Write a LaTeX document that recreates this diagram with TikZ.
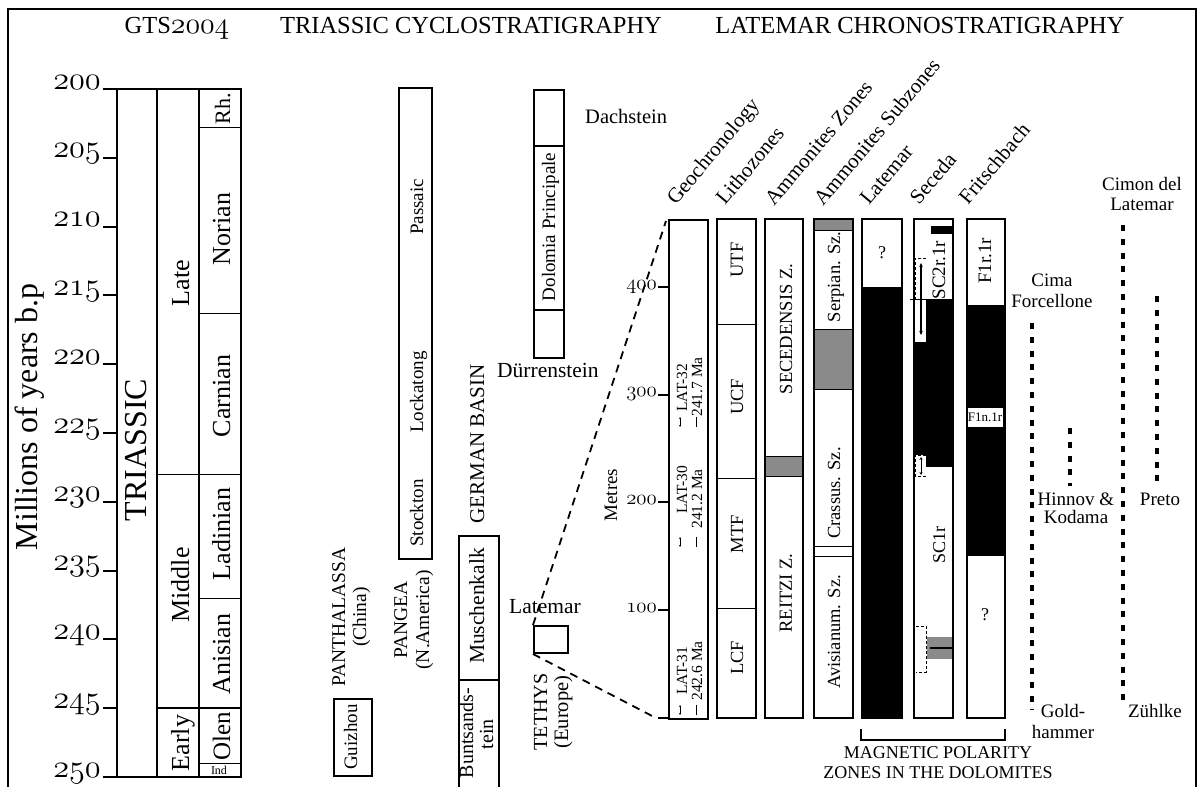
\documentclass[tikz,border=0pt]{standalone}
\usepackage{graphicx}
\usepackage{fontspec}
\setmainfont{Liberation Serif}
\usetikzlibrary{arrows.meta}
\newcommand\fs[2]{\fontsize{#1}{#2}\selectfont}
\newcommand\osf[1]{{\usefont{OML}{lmm}{m}{it}#1}}
\definecolor{gry}{RGB}{138,138,138}
\begin{document}
\begin{tikzpicture}[x=1pt,y=-1pt,
  thicktwo/.style={line width=2pt},
  thinone/.style={line width=0.9pt},
  colbox/.style={draw, line width=2pt},
  rt/.style={rotate=90, inner sep=0pt},
  lbl/.style={inner sep=0pt, font=\fs{19}{21}},
  ttl/.style={inner sep=0pt, font=\fs{24.5}{28}, anchor=base},
  hdr/.style={inner sep=0pt, font=\fs{21}{24}, rotate=50, anchor=base west},
  intext/.style={rt, font=\fs{18.5}{20}},
  dotl/.style={line width=4.5pt, dash pattern=on 6pt off 7.8pt},
  dashl/.style={line width=1.8pt, dash pattern=on 8pt off 6pt},
  brk/.style={line width=0.8pt, dash pattern=on 3pt off 2pt},
  tip/.style={{Stealth[length=4pt,width=3.5pt]}-{Stealth[length=4pt,width=3.5pt]}},
]
\useasboundingbox (0,0) rectangle (1203,787);
% frame
\draw[thicktwo] (8,800) -- (8,9) -- (1196,9) -- (1196,800);
% titles
\node[ttl] (t1) at (177,33) {GTS\scalebox{1.2}{\osf{2004}}};
\node[ttl] (t2) at (471,33) {TRIASSIC CYCLOSTRATIGRAPHY};
\node[ttl] (t3) at (920,33) {LATEMAR CHRONOSTRATIGRAPHY};

% ===== GTS2004 =====
\foreach \a in {200,205,...,250}{
  \pgfmathsetmacro\yy{89+(\a-200)*13.76}
  \draw[thicktwo] (103,\yy) -- (117,\yy);
  \node[anchor=base east, inner sep=0pt, font=\fs{24.88}{28}] (tk\a) at (101,\yy) {\scalebox{1.3}{\osf{\a}}};
}
\draw[thicktwo] (117,89) rectangle (241,777);
\draw[thicktwo] (157,89) -- (157,777) (199,89) -- (199,777);
\draw[thinone] (199,127.5) -- (241,127.5) (199,313.3) -- (241,313.3)
  (157,474.3) -- (241,474.3) (199,598.1) -- (241,598.1) (199,763.2) -- (241,763.2);
\draw[thicktwo] (157,708.2) -- (241,708.2);
\node[rt, anchor=base, font=\fs{32}{36}] (myr) at (37,417) {Millions of years b.p};
\node[rt, font=\fs{32}{36}] (tri) at (136,450) {TRIASSIC};
\node[rt, anchor=base, font=\fs{26}{28}] (late) at (189,283) {Late};
\node[rt, anchor=base, font=\fs{26}{28}] (mid) at (189,585) {Middle};
\node[rt, anchor=base, font=\fs{26}{28}] (early) at (189,743) {Early};
\node[rt, anchor=base, font=\fs{22}{24}] (rh) at (230,109) {Rh.};
\node[rt, anchor=base, font=\fs{26}{28}] (nor) at (230,229) {Norian};
\node[rt, anchor=base, font=\fs{26}{28}] (car) at (230,396) {Carnian};
\node[rt, anchor=base, font=\fs{26}{28}] (lad) at (230,534) {Ladinian};
\node[rt, anchor=base, font=\fs{26}{28}] (ani) at (230,654) {Anisian};
\node[rt, anchor=base, font=\fs{25}{28}] (olen) at (230,736) {Olen};
\node[inner sep=0pt, font=\fs{12}{13}] (ind) at (219,770) {Ind};

% ===== cyclostratigraphy =====
\draw[thicktwo] (399,88) rectangle (432,559);
\node[rt, anchor=base, font=\fs{19}{21}] (pas) at (423,207) {Passaic};
\node[rt, anchor=base, font=\fs{19}{21}] (lock) at (423,392) {Lockatong};
\node[rt, anchor=base, font=\fs{19}{21}] (stock) at (423,513) {Stockton};
\node[rt, anchor=base, font=\fs{19.5}{21}] (pan1) at (345,617) {PANTHALASSA};
\node[rt, anchor=base, font=\fs{19.5}{21}] (pan2) at (366,617) {(China)};
\draw[thicktwo] (334,699) rectangle (372,776);
\node[rt, anchor=base, font=\fs{19}{21}] (gui) at (357,737) {Guizhou};
\node[rt, anchor=base, font=\fs{19.5}{21}] (pg1) at (407,620) {PANGEA};
\node[rt, anchor=base, font=\fs{19.5}{21}] (pg2) at (429,620) {(N.America)};
\node[rt, anchor=base, font=\fs{21}{23}] (gb) at (484,444) {GERMAN BASIN};
\draw[thicktwo] (459,800) -- (459,536) -- (499,536) -- (499,800);
\draw[thicktwo] (459,680) -- (499,680);
\node[rt, anchor=base, font=\fs{21.5}{23}] (mus) at (484,606) {Muschenkalk};
\node[rt, anchor=base, font=\fs{20}{21}] (bu1) at (473,733) {Buntsands-};
\node[rt, anchor=base, font=\fs{20}{21}] (bu2) at (493,734) {tein};
\draw[thicktwo] (534,90) rectangle (564,358);
\draw[thicktwo] (534,146) -- (564,146) (534,310) -- (564,310);
\node[rt, anchor=base, font=\fs{19}{21}] (dol) at (555,227) {Dolomia Principale};
\node[anchor=base west, inner sep=0pt, font=\fs{20.5}{22}] (dach) at (585,123) {Dachstein};
\node[anchor=base west, inner sep=0pt, font=\fs{21.5}{23}] (durr) at (497,377) {Dürrenstein};
\node[anchor=base, inner sep=0pt, font=\fs{21.5}{23}] (latl) at (545,613) {Latemar};
\node[colbox, minimum width=34pt, minimum height=27pt, inner sep=0pt, anchor=north west] (latbox) at (533,625) {};
\node[rt, anchor=base, font=\fs{20}{21}] (te1) at (547,712) {TETHYS};
\node[rt, anchor=base, font=\fs{20.5}{21}] (te2) at (568,712) {(Europe)};
\node[rt, anchor=base, font=\fs{19}{21}] (met) at (617,495) {Metres};

% ===== Latemar chronostratigraphy =====
\node[colbox, minimum width=39pt, minimum height=499pt, inner sep=0pt, anchor=north west] (geo) at (668,219) {};
\coordinate (gtop) at (666,221);
\coordinate (gbot) at (656,718);
\draw[dashl] (latbox.north west) -- (gtop);
\draw[dashl] (latbox.south west) -- (gbot);
\foreach \m/\yy in {0/718,100/610.2,200/502.4,300/394.6,400/286.8}{
  \draw[thicktwo] (658,\yy) -- (668,\yy);
}
\foreach \m/\yy in {100/610.2,200/502.4,300/394.6,400/286.8}{
  \node[anchor=mid east, inner sep=0pt, font=\fs{21}{23}] (mt\m) at (657,\yy) {\osf{\m}};
}
% geochronology contents
\node[rt, anchor=base, font=\fs{15.5}{17}] (l32a) at (687,388) {LAT-32};
\node[rt, anchor=base, font=\fs{15.5}{17}] (l32b) at (702,387) {241.7 Ma};
\node[rt, anchor=base, font=\fs{15.5}{17}] (l30a) at (687,490) {LAT-30};
\node[rt, anchor=base, font=\fs{15.5}{17}] (l30b) at (702,499) {241.2 Ma};
\node[rt, anchor=base, font=\fs{15.5}{17}] (l31a) at (687,671) {LAT-31};
\node[rt, anchor=base, font=\fs{15.5}{17}] (l31b) at (702,671) {242.6 Ma};
\foreach \yy in {422,542,710}{
  \draw[line width=0.6pt, {Stealth[length=2pt,width=2pt]}-{Stealth[length=2pt,width=2pt]}] (680,\yy-5) -- (680,\yy+5);
  \draw[line width=0.8pt] (696,\yy-5) -- (696,\yy+5);
}
% lithozones
\draw[colbox] (717,219) rectangle (756,718);
\draw[thinone] (717,324) -- (756,324) (717,478) -- (756,478) (717,608) -- (756,608);
\node[intext] (utf) at (737,260) {UTF};
\node[intext] (ucf) at (737,397) {UCF};
\node[intext] (mtf) at (737,534) {MTF};
\node[intext] (lcf) at (737,658) {LCF};
% ammonite zones
\filldraw[fill=gry, thinone] (765,456) rectangle (803,476);
\draw[colbox] (765,219) rectangle (803,718);
\node[intext] (sec) at (786,329) {SECEDENSIS Z.};
\node[intext] (rei) at (786,593) {REITZI Z.};
% ammonite subzones
\fill[gry] (814,219) rectangle (853,230);
\draw[thinone] (814,230) -- (853,230);
\filldraw[fill=gry, thinone] (814,329) rectangle (853,389);
\draw[thinone] (814,546) -- (853,546) (814,556) -- (853,556);
\draw[colbox] (814,219) rectangle (853,718);
\node[intext, anchor=base] (serp) at (840,277) {Serpian. Sz.};
\node[intext, anchor=base] (cras) at (840,493) {Crassus. Sz.};
\node[intext, anchor=base] (avis) at (840,632) {Avisianum. Sz.};
% Latemar
\fill (862,287) rectangle (902,718);
\draw[colbox] (862,219) rectangle (902,718);
\node[inner sep=0pt, font=\fs{18}{20}] (q1) at (882,253) {?};
% Seceda
\fill (914,299) rectangle (953,467);
\fill (931,226) rectangle (953,234);
\fill[white] (914,299) rectangle (926,342);
\fill[white] (914,455) rectangle (926,467);
\draw[thinone] (910,299) -- (929,299);
\draw[brk] (926,258) -- (915,258) -- (915,299);
\draw[line width=1.2pt, tip] (921,263) -- (921,335);
\draw[brk] (926,455) -- (915,455) -- (915,476) -- (926,476);
\draw[line width=1pt, {Stealth[length=3pt,width=3pt]}-{Stealth[length=3pt,width=3pt]}] (921,457) -- (921,475);
\fill[gry] (927,637) rectangle (952,659);
\draw[thicktwo] (930,648) -- (952,648);
\draw[brk] (916,626) -- (926,626) -- (926,672) -- (916,672);
\draw[colbox] (914,219) rectangle (953,718);
\node[rt, anchor=base, font=\fs{19}{21}] (sc2) at (945,270) {SC2r.1r};
\node[rt, anchor=base, font=\fs{18}{20}] (sc1) at (945,545) {SC1r};
% Fritschbach
\fill (967,305) rectangle (1005,556);
\fill[white] (967,408) rectangle (1003,427);
\draw[colbox] (967,219) rectangle (1005,718);
\node[inner sep=0pt, font=\fs{13}{14}] (f1n) at (985,417.5) {F1n.1r};
\node[rt, font=\fs{19}{21}] (f1r) at (985,261) {F1r.1r};
\node[inner sep=0pt, font=\fs{18}{20}] (q2) at (985,615) {?};
% headers
\node[hdr] (h1) at (676,206) {Geochronology};
\node[hdr] (h2) at (725,206) {Lithozones};
\node[hdr] (h3) at (774,207) {Ammonites Zones};
\node[hdr] (h4) at (823,207) {Ammonites Subzones};
\node[hdr] (h5) at (869,206) {Latemar};
\node[hdr] (h6) at (919,206) {Seceda};
\node[hdr] (h7) at (968,206) {Fritschbach};
% magnetic polarity bracket
\draw[thicktwo] (861,729) -- (861,740) -- (1005,740) -- (1005,729);
\node[anchor=base, inner sep=0pt, font=\fs{18}{20}] (mg1) at (938,758) {MAGNETIC POLARITY};
\node[anchor=base, inner sep=0pt, font=\fs{18}{20}] (mg2) at (938,778) {ZONES IN THE DOLOMITES};

% ===== right: sections and authors =====
\node[lbl, anchor=base] (cim1) at (1142,190) {Cimon del};
\node[lbl, anchor=base] (cim2) at (1142,210) {Latemar};
\node[lbl, anchor=base] (cf1) at (1052,286) {Cima};
\node[lbl, anchor=base] (cf2) at (1052,307) {Forcellone};
\node[lbl, anchor=base] (hk1) at (1076,505) {Hinnov \&};
\node[lbl, anchor=base] (hk2) at (1076,523) {Kodama};
\node[lbl, anchor=base] (pre) at (1160,505) {Preto};
\node[lbl, anchor=base] (go1) at (1063,717) {Gold-};
\node[lbl, anchor=base] (go2) at (1063,738) {hammer};
\node[lbl, anchor=base] (zu) at (1155,717) {Zühlke};
\draw[dotl] (1032,323) -- (1032,710);
\draw[dotl] (1070,428) -- (1070,486);
\draw[dotl] (1123,225) -- (1123,707);
\draw[dotl] (1157,296) -- (1157,487);
\end{tikzpicture}
\end{document}
